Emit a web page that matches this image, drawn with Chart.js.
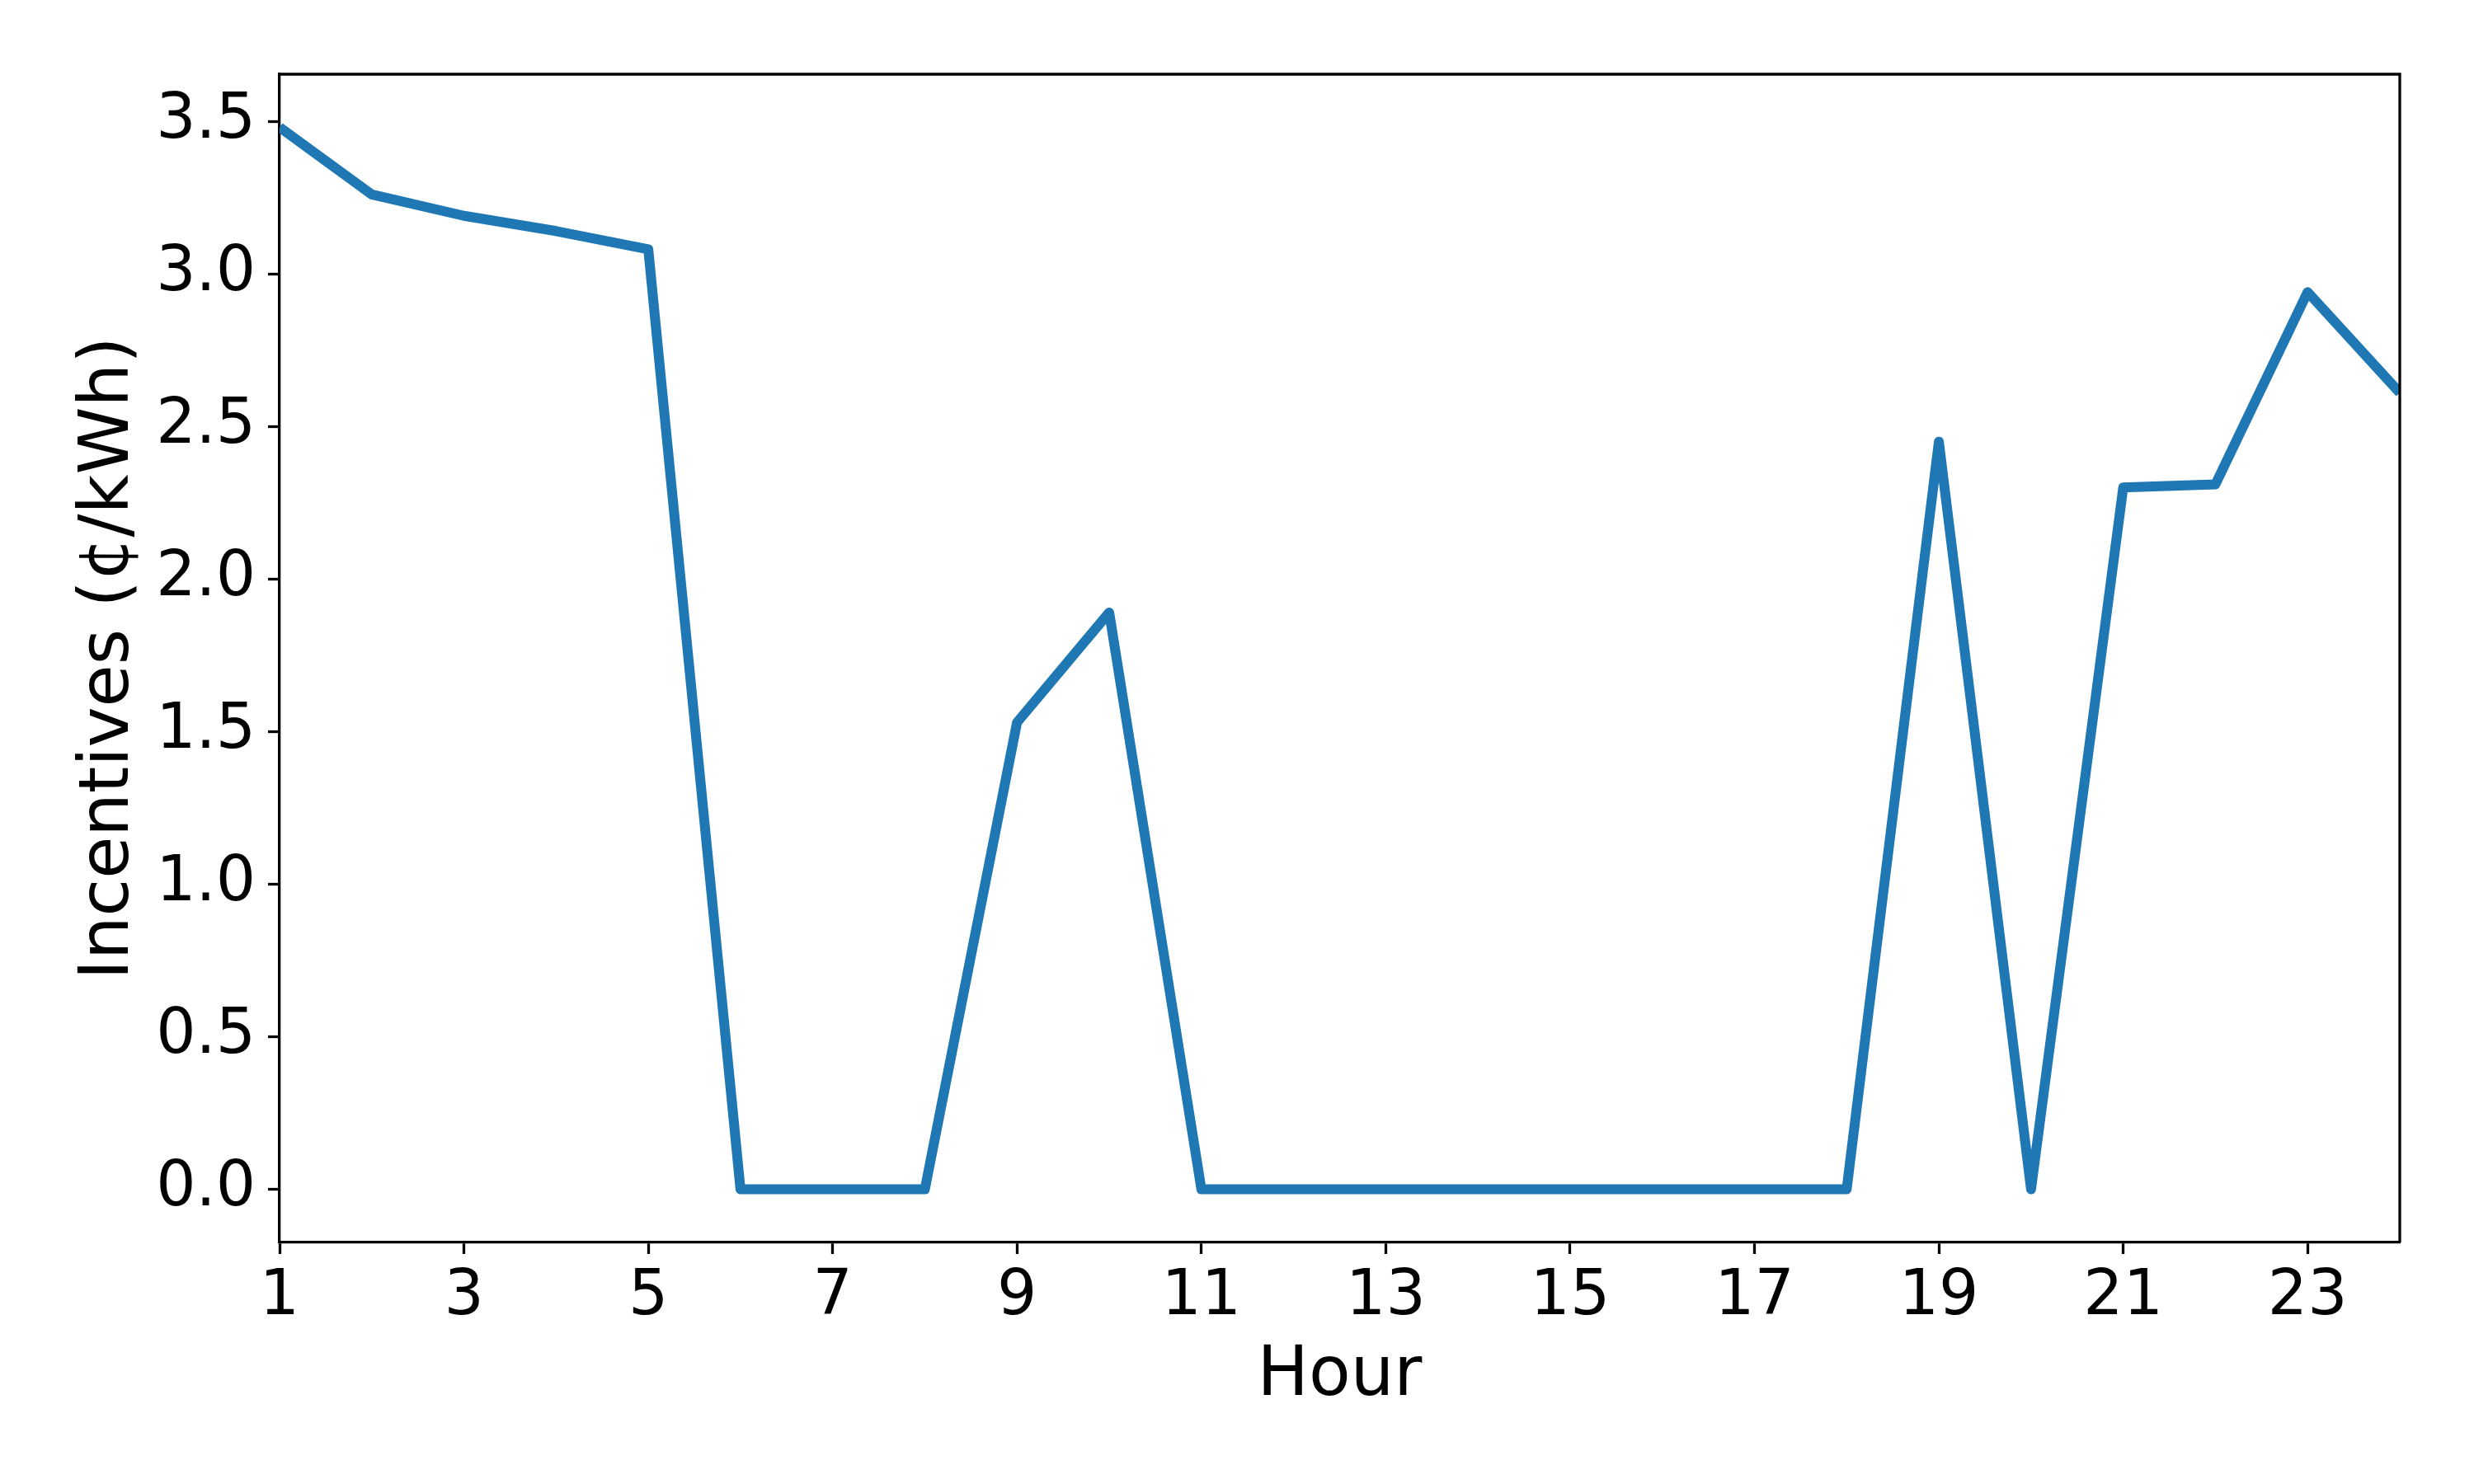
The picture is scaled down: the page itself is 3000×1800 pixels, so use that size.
<!DOCTYPE html>
<html>
<head>
<meta charset="utf-8">
<script src="https://cdn.jsdelivr.net/npm/chart.js@4/dist/chart.umd.min.js"></script>
<style>
  html, body { margin: 0; padding: 0; background: #ffffff; }
  #wrap { width: 3000px; height: 1800px; }
</style>
</head>
<body>
<div id="wrap"><canvas id="c" width="3000" height="1800"></canvas></div>
<script>
const hours = [1,2,3,4,5,6,7,8,9,10,11,12,13,14,15,16,17,18,19,20,21,22,23,24];
const incentives = [3.48,3.26,3.19,3.14,3.08,0,0,0,1.53,1.89,0,0,0,0,0,0,0,0,2.45,0,2.30,2.31,2.94,2.61];
const xTickValues = [1,3,5,7,9,11,13,15,17,19,21,23];
const yTickValues = [0,0.5,1.0,1.5,2.0,2.5,3.0,3.5];
const xTitle = 'Hour';
const yTitle = 'Incentives (¢/kWh)';

const FONT = 'DejaVu Sans';
const AX_LEFT = 339, AX_RIGHT = 2910, AX_TOP = 90, AX_BOTTOM = 1507;
const W = 3000, H = 1800;

const framePlugin = {
  id: 'frame',
  afterDraw(chart) {
    const {ctx, chartArea: a} = chart;
    ctx.save();
    ctx.strokeStyle = '#000';
    ctx.lineWidth = 3.3;
    ctx.beginPath();
    ctx.moveTo(a.left, a.top);
    ctx.lineTo(a.right, a.top);
    ctx.lineTo(a.right, a.bottom);
    ctx.stroke();
    ctx.restore();
  }
};

new Chart(document.getElementById('c'), {
  type: 'line',
  data: {
    datasets: [{
      data: hours.map((h, i) => ({x: h, y: incentives[i]})),
      borderColor: '#1f77b4',
      borderWidth: 12,
      pointRadius: 0,
      tension: 0,
      fill: false,
      borderJoinStyle: 'round',
      borderCapStyle: 'butt',
      clip: 0
    }]
  },
  options: {
    responsive: false,
    animation: false,
    devicePixelRatio: 1,
    layout: { padding: { left: 0, right: W - AX_RIGHT, top: AX_TOP, bottom: 0 } },
    plugins: { legend: { display: false }, tooltip: { enabled: false } },
    scales: {
      x: {
        type: 'linear',
        min: 1, max: 24,
        afterBuildTicks(s) { s.ticks = xTickValues.map(v => ({value: v})); },
        afterFit(s) { s.height = H - AX_BOTTOM; s.paddingLeft = 0; s.paddingRight = 0; },
        grid: { display: true, drawOnChartArea: false, drawTicks: true, tickLength: 14, tickWidth: 3.3, tickColor: '#000' },
        border: { display: true, color: '#000', width: 3.3 },
        ticks: {
          color: '#000', font: { family: FONT, size: 76 }, padding: 8,
          maxRotation: 0, autoSkip: false,
          callback: v => String(v)
        },
        title: { display: true, text: xTitle, color: '#000', font: { family: FONT, size: 83 }, padding: { top: 0, bottom: 80 } }
      },
      y: {
        type: 'linear',
        min: -0.174, max: 3.654,
        afterBuildTicks(s) { s.ticks = yTickValues.map(v => ({value: v})); },
        afterFit(s) { s.width = AX_LEFT; s.paddingTop = 0; s.paddingBottom = 0; },
        grid: { display: true, drawOnChartArea: false, drawTicks: true, tickLength: 14, tickWidth: 3.3, tickColor: '#000' },
        border: { display: true, color: '#000', width: 3.3 },
        ticks: {
          color: '#000', font: { family: FONT, size: 76 }, padding: 15,
          autoSkip: false,
          callback: v => Number(v).toFixed(1)
        },
        title: { display: true, text: yTitle, color: '#000', font: { family: FONT, size: 83 }, padding: { top: 84, bottom: 0 } }
      }
    }
  },
  plugins: [framePlugin]
});
</script>
</body>
</html>
